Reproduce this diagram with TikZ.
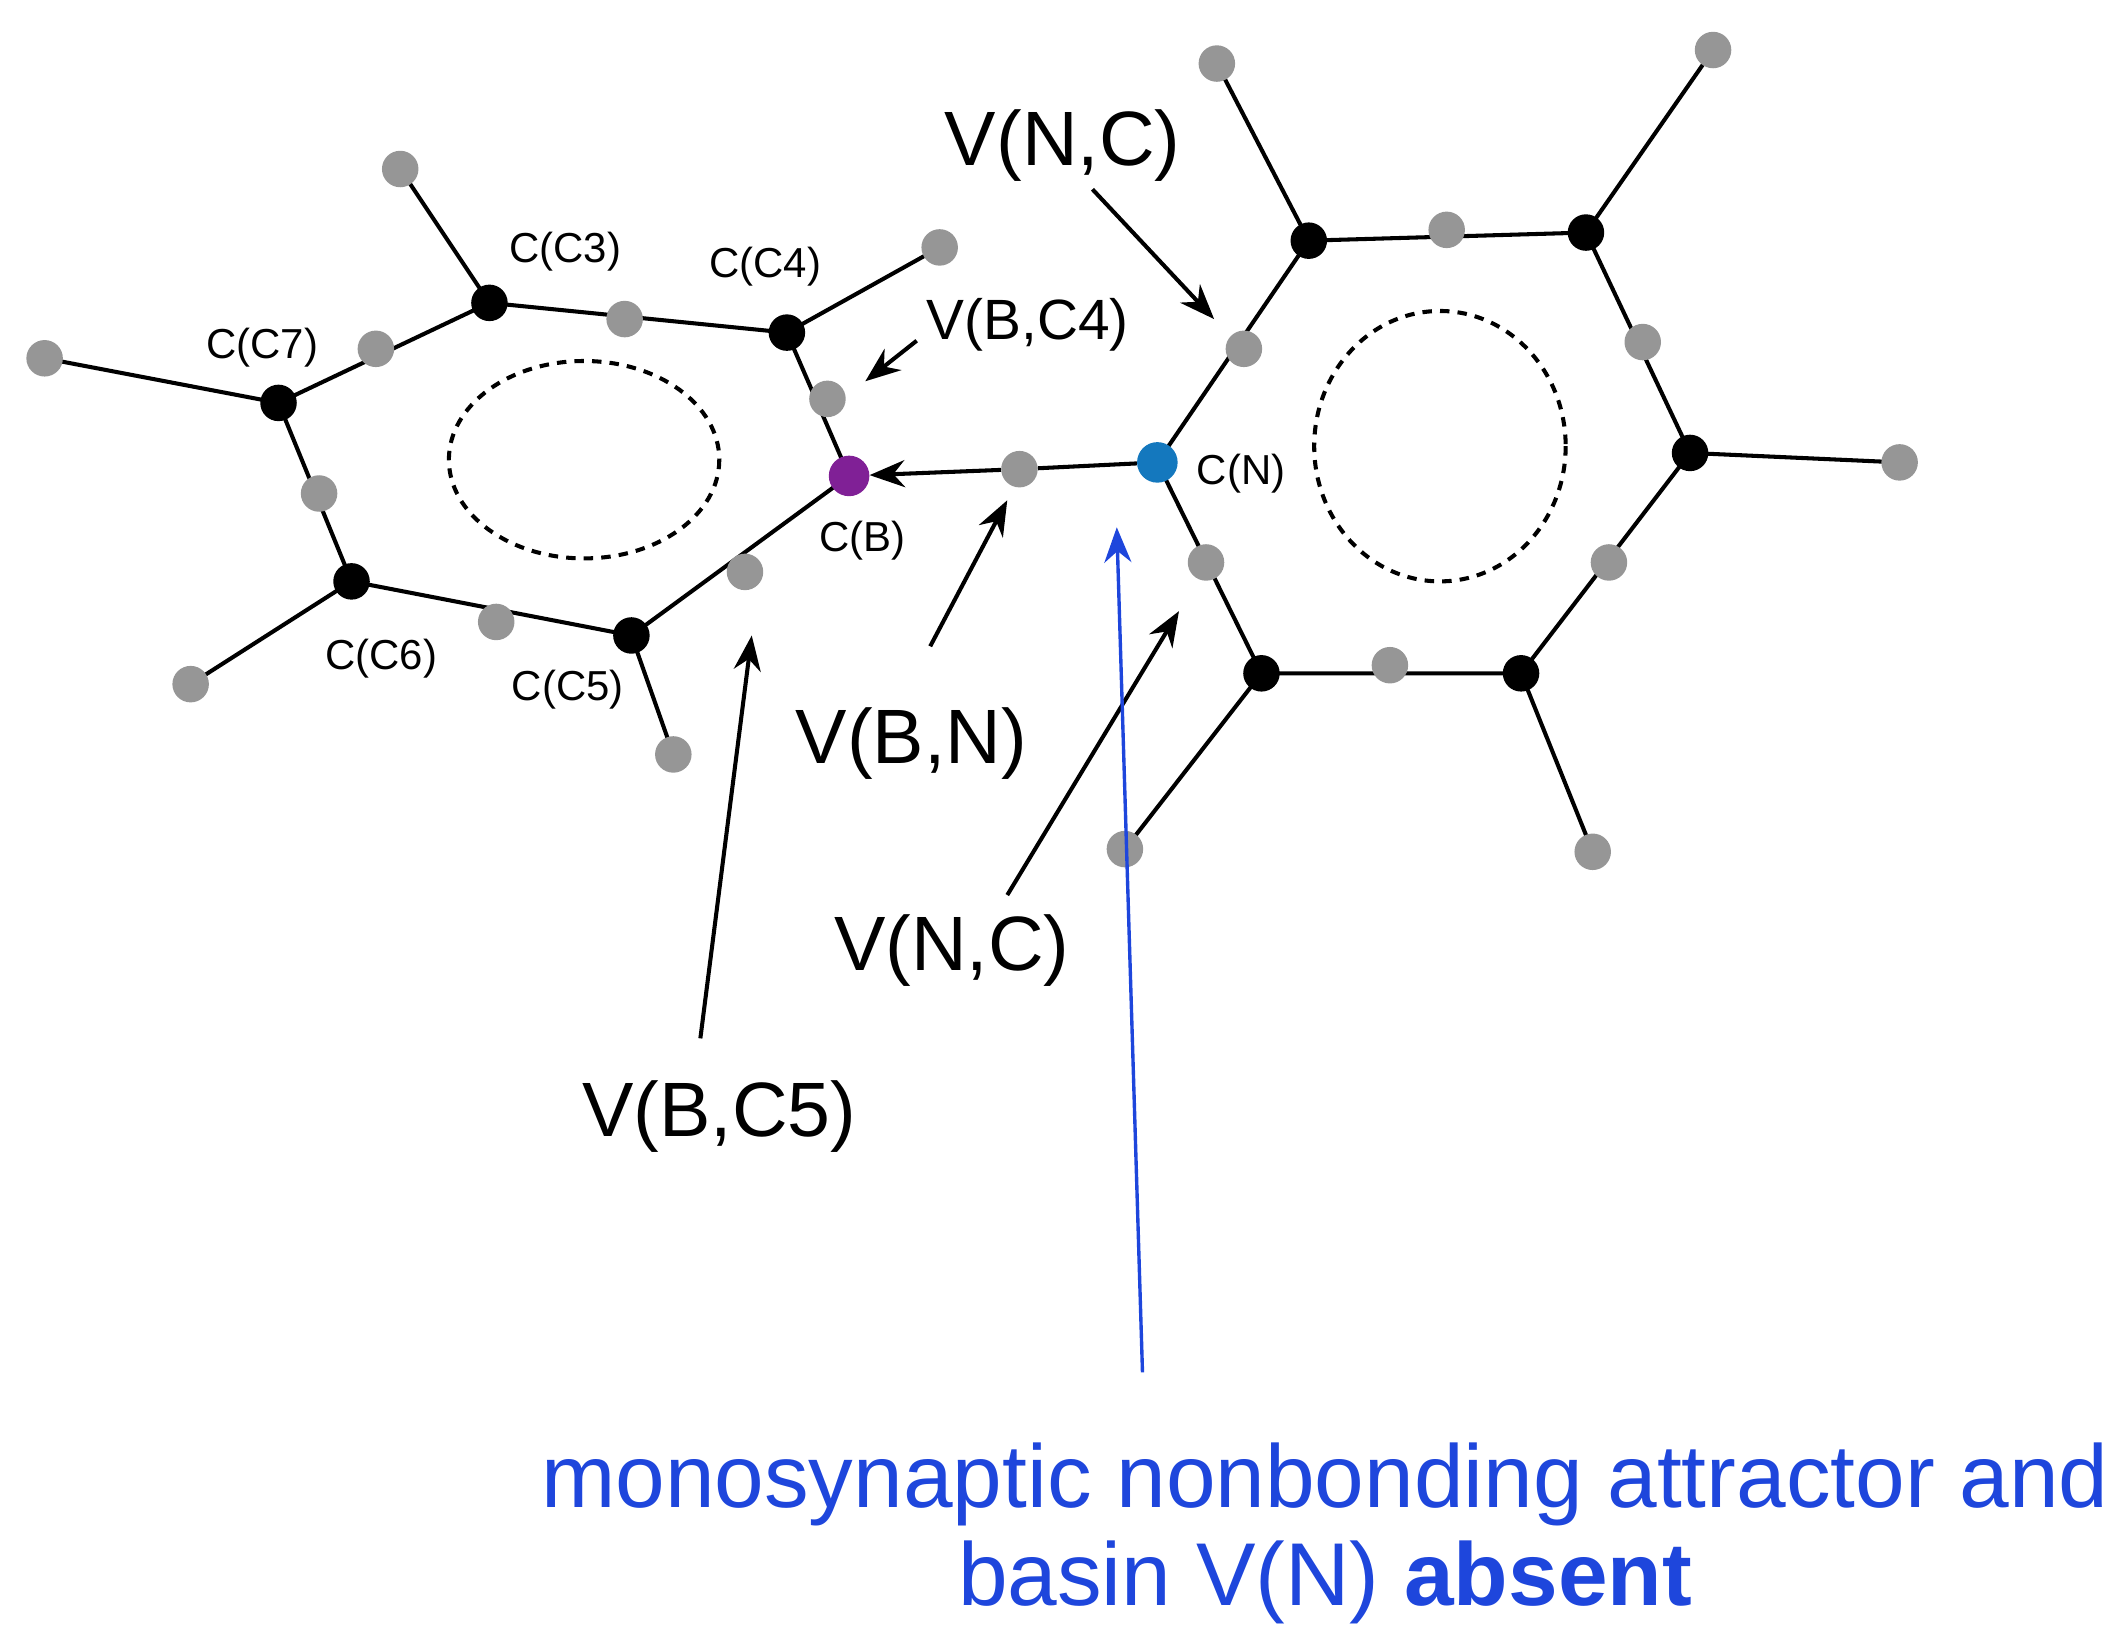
\documentclass[tikz,border=0pt]{standalone}
\usepackage{fontspec}
\setmainfont{Liberation Sans}
\usetikzlibrary{arrows.meta}
\definecolor{dotgray}{RGB}{150,150,150}
\definecolor{bpurple}{RGB}{128,32,150}
\definecolor{nblue}{RGB}{20,120,190}
\definecolor{tblue}{RGB}{30,70,220}
\begin{document}
\begin{tikzpicture}[x=1pt,y=-1pt,
  bond/.style={line width=3pt,black},
  atm/.style={circle,fill=black,inner sep=0pt,minimum size=27pt},
  g/.style={circle,fill=dotgray,inner sep=0pt,minimum size=27pt},
  sm/.style={font=\fontsize{31}{34}\selectfont},
  md/.style={font=\fontsize{42}{46}\selectfont},
  lg/.style={font=\fontsize{57}{60}\selectfont},
  arr/.style={line width=3pt,-{Stealth[length=26pt,width=20pt]}},
  ring/.style={line width=3pt,dash pattern=on 7pt off 6pt}]
\useasboundingbox (0,0) rectangle (1568,1218);
% left ring
\coordinate (C3) at (362,224); \coordinate (C4) at (582,246);
\coordinate (C7) at (206,298); \coordinate (C6) at (260,430);
\coordinate (C5) at (467,470); \coordinate (B) at (628,352);
\coordinate (H3) at (296,125); \coordinate (H4) at (695,183);
\coordinate (H7) at (33,265); \coordinate (H6) at (141,506);
\coordinate (H5) at (498,558);
% right ring
\coordinate (N) at (856,342); \coordinate (R1) at (968,178);
\coordinate (R2) at (1173,172); \coordinate (R3) at (1250,335);
\coordinate (R4) at (1125,498); \coordinate (R5) at (933,498);
\coordinate (HR1) at (900,47); \coordinate (HR2) at (1267,37);
\coordinate (HR3) at (1405,342); \coordinate (HR4) at (1178,630);
\coordinate (HR5) at (832,628);
\draw[bond] (C3)--(C4)--(B)--(C5)--(C6)--(C7)--cycle;
\draw[bond] (C3)--(H3) (C4)--(H4) (C7)--(H7) (C6)--(H6) (C5)--(H5);
\draw[bond] (N)--(R1)--(R2)--(R3)--(R4)--(R5)--cycle;
\draw[bond] (R1)--(HR1) (R2)--(HR2) (R3)--(HR3) (R4)--(HR4) (R5)--(HR5);
\draw[ring] (432,340) ellipse [x radius=100, y radius=73];
\draw[ring] (1065,330) ellipse [x radius=93, y radius=100];
% dots
\foreach \p in {C3,C4,C7,C6,C5,R1,R2,R3,R4,R5} \node[atm] (d\p) at (\p) {};
\foreach \p in {H3,H4,H7,H6,H5,HR1,HR2,HR3,HR4,HR5} \node[g] (d\p) at (\p) {};
\node[g] (g1) at (462,236) {}; \node[g] (g2) at (278,258) {};
\node[g] (gBC4) at (612,295) {}; \node[g] (g4) at (236,365) {};
\node[g] (g5) at (367,460) {}; \node[g] (gBC5) at (551,423) {};
\node[g] (g7) at (1070,170) {}; \node[g] (g8) at (1215,253) {};
\node[g] (g9) at (1190,416) {}; \node[g] (g10) at (1028,492) {};
\node[g] (gNC1) at (920,258) {}; \node[g] (gNC2) at (892,416) {};
\node[circle,fill=nblue,inner sep=0pt,minimum size=30pt] (dN) at (N) {};
\node[g] (gBN) at (754,347) {};
\node[circle,fill=bpurple,inner sep=0pt,minimum size=30pt] (dB) at (B) {};
\draw[bond] (gBN) -- (dN);
\draw[arr] (gBN) -- (dB);
% small labels
\node[sm] at (418,186) {C(C3)}; \node[sm] at (566,197) {C(C4)};
\node[sm] at (194,257) {C(C7)}; \node[sm] at (282,487) {C(C6)};
\node[sm] at (420,510) {C(C5)}; \node[sm] at (638,400) {C(B)};
\node[sm] at (918,350) {C(N)};
% big labels and arrows
\node[lg] (LNC1) at (786,108) {V(N,C)};
\node[md] (LBC4) at (760,240) {V(B,C4)};
\node[lg] (LBN) at (674,550) {V(B,N)};
\node[lg] (LNC2) at (704,703) {V(N,C)};
\node[lg] (LBC5) at (532,826) {V(B,C5)};
\coordinate (a1) at (808,140); \coordinate (a1e) at (898,236);
\coordinate (a2) at (678,252); \coordinate (a2e) at (640,282);
\coordinate (a3) at (688,478); \coordinate (a3e) at (745,370);
\coordinate (a4) at (745,662); \coordinate (a4e) at (872,452);
\coordinate (a5) at (518,768); \coordinate (a5e) at (556,470);
\coordinate (a6) at (845,1015); \coordinate (a6e) at (826,390);
\draw[arr] (a1)--(a1e); \draw[arr] (a2)--(a2e); \draw[arr] (a3)--(a3e);
\draw[arr] (a4)--(a4e); \draw[arr] (a5)--(a5e);
\draw[arr,tblue,line width=2.5pt] (a6)--(a6e);
\node[tblue,font=\fontsize{66}{72}\selectfont,align=center] (T) at (980,1134)
  {monosynaptic nonbonding attractor and\\basin V(N) \textbf{absent}};
\end{tikzpicture}
\end{document}
